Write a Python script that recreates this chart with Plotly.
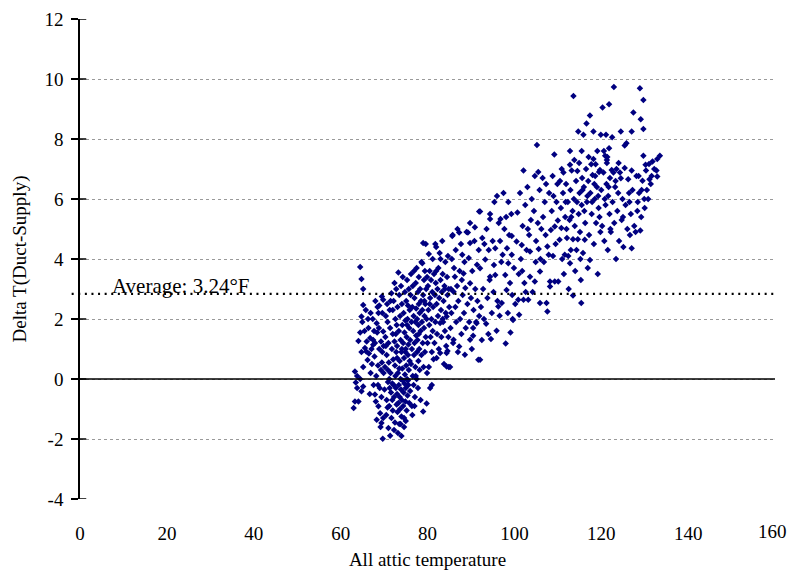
import plotly.graph_objects as go

# ---- data (attic temperature, delta T) ----
x_a = [63.0, 63.3, 63.3, 63.5, 63.8, 64.1, 64.1, 64.5, 64.5, 64.5, 64.8, 64.8, 64.8, 64.8, 65.2, 65.2, 65.2, 65.2, 65.6, 65.9, 65.5, 65.8, 63.8, 65.0]
y_a = [-0.97, -0.75, 0.25, -0.12, -0.3, 1.27, -0.75, 1.55, 3.73, 0.0, 3.33, 2.08, -0.41, 0.9, 3.0, 2.47, -0.25, 0.4, 1.03, 0.92, 1.6, 2.3, 0.1, 1.9]

x_b = [66.0, 66.2, 66.4, 66.8, 66.5, 66.9, 67.1, 67.4, 67.5, 67.5, 67.2, 67.8, 67.9, 68.1, 68.3, 68.3, 68.7, 68.7, 68.6, 68.4, 68.9, 69.1, 69.3, 69.4, 69.5, 69.7, 69.8, 69.8, 69.6, 69.9, 69.5, 68.9, 68.0, 67.6, 68.2, 66.7, 69.0, 69.4, 68.8, 67.9, 66.3, 69.9, 69.6, 68.5, 67.7, 66.9, 69.2, 69.8, 68.6, 69.3]
y_b = [1.25, 0.63, 1.70, 1.37, 0.85, 2.2, 1.0, 2.0, 1.14, 1.3, 0.5, 0.75, -0.52, -0.75, 1.86, -1.36, 2.2, -0.91, 0.45, 1.55, 1.0, -1.14, 1.25, -1.47, 0.55, -1.99, 2.64, 1.58, 0.9, 0.2, 2.75, 2.45, 2.6, -0.2, 0.1, -0.5, -0.3, -0.6, 1.7, 1.2, 2.0, 1.1, 2.2, 2.4, 1.6, 0.2, -1.6, -1.3, -0.2, 0.3]

x_c1 = [70.1, 70.2, 70.3, 70.4, 70.5, 70.6, 70.6, 70.7, 70.8, 70.9, 71.0, 71.0, 71.1, 71.2, 71.3, 71.4, 71.4, 71.5, 71.6, 71.7, 71.7, 71.8, 71.9, 72.0, 72.0, 72.1, 72.2, 72.3, 72.4, 72.4, 72.5, 72.6, 72.6, 72.7, 72.8, 72.8, 72.9, 72.9, 72.3, 71.2, 70.8, 72.5, 71.5, 70.4, 72.0, 71.9, 72.7, 70.9, 71.3, 72.2]
y_c1 = [-0.35, 0.4, 1.4, 2.1, -1.2, 0.8, -0.7, 2.5, 1.9, -0.1, -1.63, 1.2, 0.55, -0.9, 2.3, -1.89, 1.7, 0.2, -0.45, 2.86, -1.3, 1.0, -0.15, 1.5, -1.05, 0.65, 2.6, -0.6, 1.25, 3.2, -1.45, 0.1, 2.0, -0.3, 3.0, 0.9, -0.85, 1.8, -1.7, 0.0, -0.95, 0.45, 2.6, 1.1, 2.3, -0.7, 1.5, 0.3, -0.3, -0.2]

x_c2 = [73.0, 73.0, 73.1, 73.1, 73.2, 73.3, 73.3, 73.4, 73.4, 73.5, 73.5, 73.6, 73.6, 73.7, 73.7, 73.8, 73.8, 73.9, 73.9, 74.0, 74.0, 74.1, 74.1, 74.2, 74.2, 74.3, 74.3, 74.4, 74.4, 74.5, 74.5, 74.6, 74.6, 74.7, 74.7, 74.8, 74.8, 74.9, 74.9, 75.0, 75.0, 75.1, 75.1, 75.2, 75.2, 75.3, 75.3, 75.4, 75.4, 75.5, 75.5, 75.6, 75.6, 75.7, 75.7, 75.8, 75.8, 75.9, 75.9, 73.2, 74.0, 73.5, 74.6, 75.0, 73.8, 74.9, 75.5, 73.0, 74.1, 75.3]
y_c2 = [-0.5, 1.1, 2.4, -1.1, 0.2, 3.55, -0.8, 1.6, -0.2, 2.8, -1.5, 0.6, -0.6, 2.1, -1.0, 1.3, 0.0, 3.1, -0.35, 0.9, -1.25, 2.5, -0.7, 1.8, 0.35, -0.05, 3.4, -0.9, 1.2, 2.2, -0.45, 0.7, -1.6, 1.55, -0.15, 2.9, 0.15, -0.75, 1.95, 1.0, -0.3, 2.6, 0.45, -1.05, 1.4, 3.3, 0.0, 2.0, -0.55, 0.8, 2.45, 1.15, -0.2, 3.0, 0.3, 1.7, -0.8, 2.3, 0.6, -1.8, -1.9, 0.35, -1.3, -1.4, -1.5, 0.9, -0.05, 0.7, 1.0, 1.8]

x_d = [76.0, 76.0, 76.1, 76.2, 76.2, 76.3, 76.4, 76.4, 76.5, 76.6, 76.6, 76.7, 76.8, 76.8, 76.9, 76.9, 77.0, 77.0, 77.1, 77.2, 77.2, 77.3, 77.4, 77.4, 77.5, 77.5, 77.6, 77.6, 77.7, 77.8, 77.8, 77.9, 77.9, 78.0, 78.0, 78.1, 78.2, 78.2, 78.3, 78.4, 78.4, 78.5, 78.6, 78.6, 78.7, 78.8, 78.8, 78.9, 79.0, 79.0, 79.0, 79.1, 79.2, 79.2, 79.3, 79.4, 79.4, 79.5, 79.6, 79.6, 79.7, 79.8, 79.8, 79.9, 79.9, 77.0, 78.0, 76.5, 77.3, 79.3]
y_d = [1.3, -0.4, 2.8, 0.5, 3.5, 1.9, -0.9, 1.0, 2.4, 0.1, 3.1, 1.6, -0.2, 2.1, 0.8, 3.6, 1.2, 2.7, -0.6, 1.9, 0.4, 3.2, 1.45, 2.35, 0.0, 3.7, 0.9, 2.0, 1.3, 2.9, -0.3, 0.6, 1.8, 2.5, 3.4, 1.0, 2.2, 0.3, 3.0, 1.6, -0.7, 2.6, 0.8, 3.9, 1.9, 3.86, 2.3, 1.2, 4.53, 2.8, -1.08, 0.4, 1.7, 3.3, 2.1, 0.9, 3.6, 2.5, 1.4, 4.5, 3.0, -0.82, 2.0, 0.2, 3.4, -0.9, 1.5, -1.2, 0.1, 2.6]

x_e = [80.0, 80.1, 80.2, 80.3, 80.3, 80.4, 80.5, 80.6, 80.6, 80.7, 80.8, 80.9, 81.0, 81.1, 81.2, 81.2, 81.3, 81.4, 81.5, 81.6, 81.7, 81.8, 81.9, 82.0, 82.1, 82.1, 82.2, 82.3, 82.4, 82.5, 82.6, 82.7, 82.8, 82.9, 82.9, 83.0, 83.1, 83.2, 83.3, 83.4, 83.5, 83.6, 83.7, 83.8, 83.9, 84.0, 84.1, 84.2, 84.3, 84.4, 84.4, 84.4, 84.5, 84.6, 84.6, 84.7, 84.8, 84.9, 84.9, 85.0, 81.0, 82.0, 83.0, 80.5, 84.0, 81.8, 83.5]
y_e = [1.2, 3.1, 2.3, 4.17, 0.4, 1.8, 3.6, -0.3, 2.7, 1.4, 3.3, 2.0, 0.9, 2.9, 4.0, 1.6, 2.4, 0.66, 3.5, 1.2, 2.8, 1.9, 3.2, 4.4, 0.7, 2.5, 1.5, 3.0, 2.1, 3.7, 1.0, 2.7, 4.2, 0.87, 1.87, 3.3, 2.3, 1.4, 2.9, 4.6, 3.5, 1.9, 2.6, 0.5, 3.1, 1.6, 3.9, 2.2, 1.1, 0.42, 2.08, 0.87, 3.4, 0.93, 2.8, 4.1, 1.4, 0.4, 3.0, 2.4, -0.2, 3.6, 4.0, 2.5, 3.0, 4.5, 2.0]

x_f = [85.2, 85.3, 85.4, 85.5, 85.6, 85.7, 85.8, 85.9, 86.0, 86.0, 86.1, 86.3, 86.4, 86.5, 86.6, 86.8, 87.0, 87.1, 87.3, 87.3, 87.4, 87.5, 87.7, 87.8, 88.0, 88.1, 88.3, 88.4, 88.6, 88.7, 88.8, 89.0, 89.2, 89.3, 89.5, 89.6, 89.8, 89.8, 89.8, 89.8, 90.0, 90.2, 90.3, 90.5, 90.5, 90.6, 90.8, 90.9, 91.0, 91.2, 91.3, 91.4, 91.5, 91.7, 91.8, 91.9, 91.9, 86.9, 88.5, 87.9]
y_f = [0.4, 1.7, 3.0, 2.2, 4.0, 4.77, 4.8, 1.2, 1.31, 2.91, 3.7, 3.41, 2.4, 4.3, 1.9, 3.1, 0.9, 2.6, 4.88, 1.08, 3.6, 2.0, 4.5, 1.5, 4.14, 2.8, 3.52, 2.2, 0.81, 3.03, 1.7, 4.9, 2.5, 4.88, 4.03, 1.9, 1.31, 3.19, 5.2, 4.53, 2.7, 1.0, 3.6, 1.7, 1.44, 2.3, 4.6, 5.06, 3.0, 1.9, 1.86, 3.81, 2.6, 0.64, 4.3, 5.58, 2.1, 5.0, 3.9, 3.3]

x_g = [92.1, 92.1, 92.1, 92.3, 92.5, 92.6, 92.8, 93.0, 93.3, 93.5, 93.6, 93.8, 94.0, 94.1, 94.3, 94.4, 94.4, 94.4, 94.6, 94.8, 95.0, 95.2, 95.4, 95.6, 95.6, 95.9, 96.0, 96.1, 96.3, 96.4, 96.6, 96.8, 97.0, 97.1, 97.3, 97.5, 97.7, 97.9, 98.0, 98.2, 98.3, 98.5, 98.6, 98.6, 98.8, 99.0, 99.1, 99.3, 99.4, 99.4, 99.6, 99.7, 99.9, 93.1, 95.3, 96.7, 98.1, 99.5]
y_g = [0.64, 3.69, 5.58, 2.4, 1.3, 4.7, 3.0, 2.0, 3.98, 1.84, 5.0, 2.7, 1.5, 4.3, 3.3, 3.41, 5.5, 5.33, 1.33, 2.2, 4.6, 2.9, 5.9, 3.47, 4.36, 1.61, 6.1, 2.6, 2.42, 5.2, 2.11, 5.33, 3.9, 2.53, 4.14, 6.2, 5.0, 3.47, 1.18, 2.97, 4.36, 2.2, 3.86, 5.9, 4.8, 3.2, 1.55, 5.5, 4.14, 4.77, 2.0, 1.97, 3.7, 4.5, 3.8, 4.6, 5.4, 2.8]

x_h = [100.2, 100.5, 100.7, 100.9, 101.0, 101.1, 101.3, 101.5, 101.7, 101.9, 102.1, 102.1, 102.3, 102.5, 102.8, 103.0, 103.2, 103.4, 103.6, 103.6, 103.8, 104.0, 104.2, 104.5, 104.7, 104.7, 105.0, 105.2, 105.4, 105.6, 105.8, 105.9, 105.9, 106.2, 106.5, 106.8, 107.0, 107.2, 107.4, 107.6, 107.6, 107.9, 108.0, 108.2, 108.2, 108.4, 108.6, 108.8, 109.0, 109.2, 109.3, 109.3, 109.5, 109.7, 109.9, 110.0, 110.1, 101.8, 103.1, 104.9, 106.0, 107.3, 108.9, 102.6, 105.5, 106.6]
y_h = [2.5, 4.58, 5.55, 2.64, 3.5, 2.14, 6.2, 4.0, 4.47, 5.1, 2.64, 6.95, 3.2, 5.8, 4.3, 6.4, 2.64, 4.8, 3.41, 4.25, 5.3, 6.0, 2.9, 5.6, 3.25, 6.77, 4.6, 7.8, 5.2, 4.33, 6.3, 3.58, 2.53, 5.0, 6.7, 3.9, 5.9, 4.8, 2.53, 2.25, 4.42, 4.14, 6.2, 3.25, 3.08, 4.97, 5.6, 6.77, 6.1, 7.48, 5.08, 3.25, 4.5, 5.9, 6.5, 5.28, 3.25, 3.6, 5.0, 3.9, 4.0, 6.5, 4.1, 2.9, 6.9, 5.4]

x_i = [110.4, 110.5, 110.7, 110.8, 111.0, 111.2, 111.3, 111.4, 111.6, 111.7, 111.9, 112.1, 112.3, 112.5, 112.7, 112.8, 112.8, 112.8, 112.9, 113.0, 113.2, 113.4, 113.5, 113.5, 113.6, 113.7, 113.9, 114.0, 114.2, 114.3, 114.5, 114.6, 114.7, 114.8, 115.0, 115.1, 115.3, 115.4, 115.5, 115.5, 115.6, 115.8, 115.9, 116.0, 116.2, 116.3, 116.5, 116.6, 116.7, 116.9, 117.0, 117.2, 117.4, 117.4, 117.5, 117.7, 117.8, 118.0, 118.2, 118.2, 118.3, 118.5, 118.6, 118.7, 118.8, 119.0, 119.1, 119.2, 119.4, 119.5, 119.7, 119.8, 119.9, 112.0, 113.8, 114.9, 116.8, 117.9, 119.3, 110.9, 111.8, 113.1, 114.4, 115.7, 116.1, 117.1, 118.4, 119.6, 112.4, 115.2]
y_i = [4.64, 6.6, 5.7, 5.03, 4.0, 6.2, 6.88, 3.5, 4.14, 5.4, 6.5, 4.7, 5.9, 3.0, 5.3, 7.6, 7.14, 3.86, 6.3, 4.3, 6.95, 5.6, 4.66, 2.78, 9.43, 6.0, 5.1, 3.6, 6.6, 4.3, 6.93, 4.66, 8.25, 5.5, 6.2, 4.9, 3.3, 2.53, 7.6, 5.8, 6.7, 4.2, 8.14, 6.4, 4.64, 5.2, 7.0, 8.52, 5.9, 3.7, 6.6, 4.8, 8.78, 3.97, 6.2, 7.16, 5.5, 6.8, 8.25, 7.33, 4.5, 6.0, 6.77, 7.16, 5.2, 6.4, 7.6, 3.5, 5.7, 6.9, 6.97, 4.9, 8.14, 5.0, 7.3, 7.2, 6.1, 5.9, 6.1, 7.0, 5.9, 5.4, 5.9, 6.3, 5.6, 7.4, 6.5, 5.4, 4.1, 4.0]

x_j = [120.0, 120.2, 120.3, 120.5, 120.6, 120.7, 120.9, 121.0, 121.1, 121.2, 121.3, 121.3, 121.4, 121.5, 121.6, 121.8, 121.8, 121.9, 122.0, 122.2, 122.4, 122.5, 122.6, 122.8, 122.9, 123.0, 123.2, 123.4, 123.5, 123.7, 123.9, 124.1, 124.3, 124.5, 124.5, 124.7, 124.9, 125.1, 125.4, 125.4, 125.6, 125.8, 126.0, 126.2, 126.4, 126.6, 126.8, 127.0, 127.0, 127.0, 127.2, 120.8, 122.1, 123.3, 124.0, 125.0, 126.5, 121.7]
y_j = [6.3, 5.1, 9.05, 6.88, 7.6, 4.6, 7.44, 5.8, 8.14, 6.5, 7.3, 7.2, 7.4, 4.3, 6.1, 9.16, 7.69, 5.5, 6.7, 4.9, 6.97, 8.06, 5.9, 6.88, 9.73, 5.2, 6.4, 4.0, 7.0, 5.6, 6.2, 4.6, 6.88, 8.25, 6.69, 5.3, 6.0, 4.4, 7.78, 7.03, 5.8, 7.86, 5.0, 6.66, 6.2, 4.8, 5.5, 8.25, 6.95, 4.36, 6.3, 6.0, 5.0, 6.6, 7.2, 5.4, 5.9, 6.4]

x_k = [127.4, 127.6, 127.9, 128.1, 128.3, 128.6, 128.7, 128.9, 129.0, 129.1, 129.2, 129.5, 129.7, 129.7, 129.7, 129.9, 130.0, 130.2, 130.3, 130.5, 131.0, 131.1, 131.4, 131.6, 131.8, 132.2, 132.7, 132.9, 132.9, 133.5, 128.4, 129.3, 130.8]
y_k = [8.88, 5.1, 4.9, 6.77, 5.6, 6.77, 6.2, 9.69, 4.95, 8.66, 5.4, 6.61, 9.3, 8.33, 7.44, 6.0, 5.7, 7.14, 6.95, 6.3, 7.17, 6.66, 6.5, 6.77, 7.25, 7.0, 6.95, 7.33, 6.75, 7.44, 5.9, 6.3, 6.0]

average_value = 2.84
average_label = "Average: 3.24°F"
x_ticks = [0, 20, 40, 60, 80, 100, 120, 140]
x_last_tick = 160
y_ticks = [-4, -2, 0, 2, 4, 6, 8, 10, 12]
y_tick_text = ["-4", "-2", "0", "2", "4", "6", "8", "10", "12"]

attic = x_a + x_b + x_c1 + x_c2 + x_d + x_e + x_f + x_g + x_h + x_i + x_j + x_k
delta = y_a + y_b + y_c1 + y_c2 + y_d + y_e + y_f + y_g + y_h + y_i + y_j + y_k

FONT = "Liberation Serif, Times New Roman, serif"
FS = 19

fig = go.Figure()
fig.add_trace(go.Scatter(
    x=attic, y=delta, mode="markers",
    marker=dict(symbol="diamond", size=5, color="#000080", line=dict(width=0)),
    showlegend=False, cliponaxis=False,
))

# average dotted line
fig.add_shape(type="line", xref="paper", yref="y", x0=-0.012, x1=1.0,
              y0=average_value, y1=average_value,
              line=dict(color="black", width=2.2, dash="2px,4.6px"))
# zero line
fig.add_shape(type="line", xref="paper", yref="y", x0=0, x1=1.0, y0=0, y1=0,
              line=dict(color="black", width=1.5))
# tick marks crossing the y axis (inner part)
for v in y_ticks:
    fig.add_shape(type="line", xref="paper", yref="y", x0=0, x1=0.009, y0=v, y1=v,
                  line=dict(color="black", width=1.5))

fig.add_annotation(x=6.9, y=average_value, xref="x", yref="y", text=average_label,
                   showarrow=False, xanchor="left", yanchor="bottom", yshift=-6,
                   font=dict(family=FONT, size=21, color="black"))

# last x tick label placed as an annotation so it is not clipped at the window edge
fig.add_annotation(x=x_last_tick, y=0, xref="x", yref="paper", text=str(x_last_tick),
                   showarrow=False, xanchor="center", yanchor="top",
                   xshift=-3, yshift=-20,
                   font=dict(family=FONT, size=FS, color="black"))

# the page body adds an 8px margin on each side; keep the figure inside the window
fig.update_layout(
    width=786, height=562,
    margin=dict(l=72, r=19, t=11, b=71),
    paper_bgcolor="white", plot_bgcolor="white",
    font=dict(family=FONT, size=FS, color="black"),
    xaxis=dict(range=[0, 160], tickvals=x_ticks, showgrid=False, zeroline=False,
               showline=False, ticks="", ticklabelstandoff=21, automargin=False,
               ticklabeloverflow="allow",
               tickfont=dict(family=FONT, size=FS),
               title=dict(text="All attic temperature", standoff=17,
                          font=dict(family=FONT, size=FS))),
    yaxis=dict(range=[-4, 12], tickvals=y_ticks, ticktext=y_tick_text, showgrid=True,
               gridcolor="#9a9a9a", gridwidth=1, griddash="dot",
               zeroline=False, showline=True, linecolor="black", linewidth=1.5,
               ticks="outside", ticklen=7, tickwidth=1.5, tickcolor="black",
               ticklabelstandoff=4, automargin=False,
               tickfont=dict(family=FONT, size=FS),
               title=dict(text="Delta T(Duct-Supply)", standoff=13,
                          font=dict(family=FONT, size=FS))),
)

fig.write_html("out.html")
